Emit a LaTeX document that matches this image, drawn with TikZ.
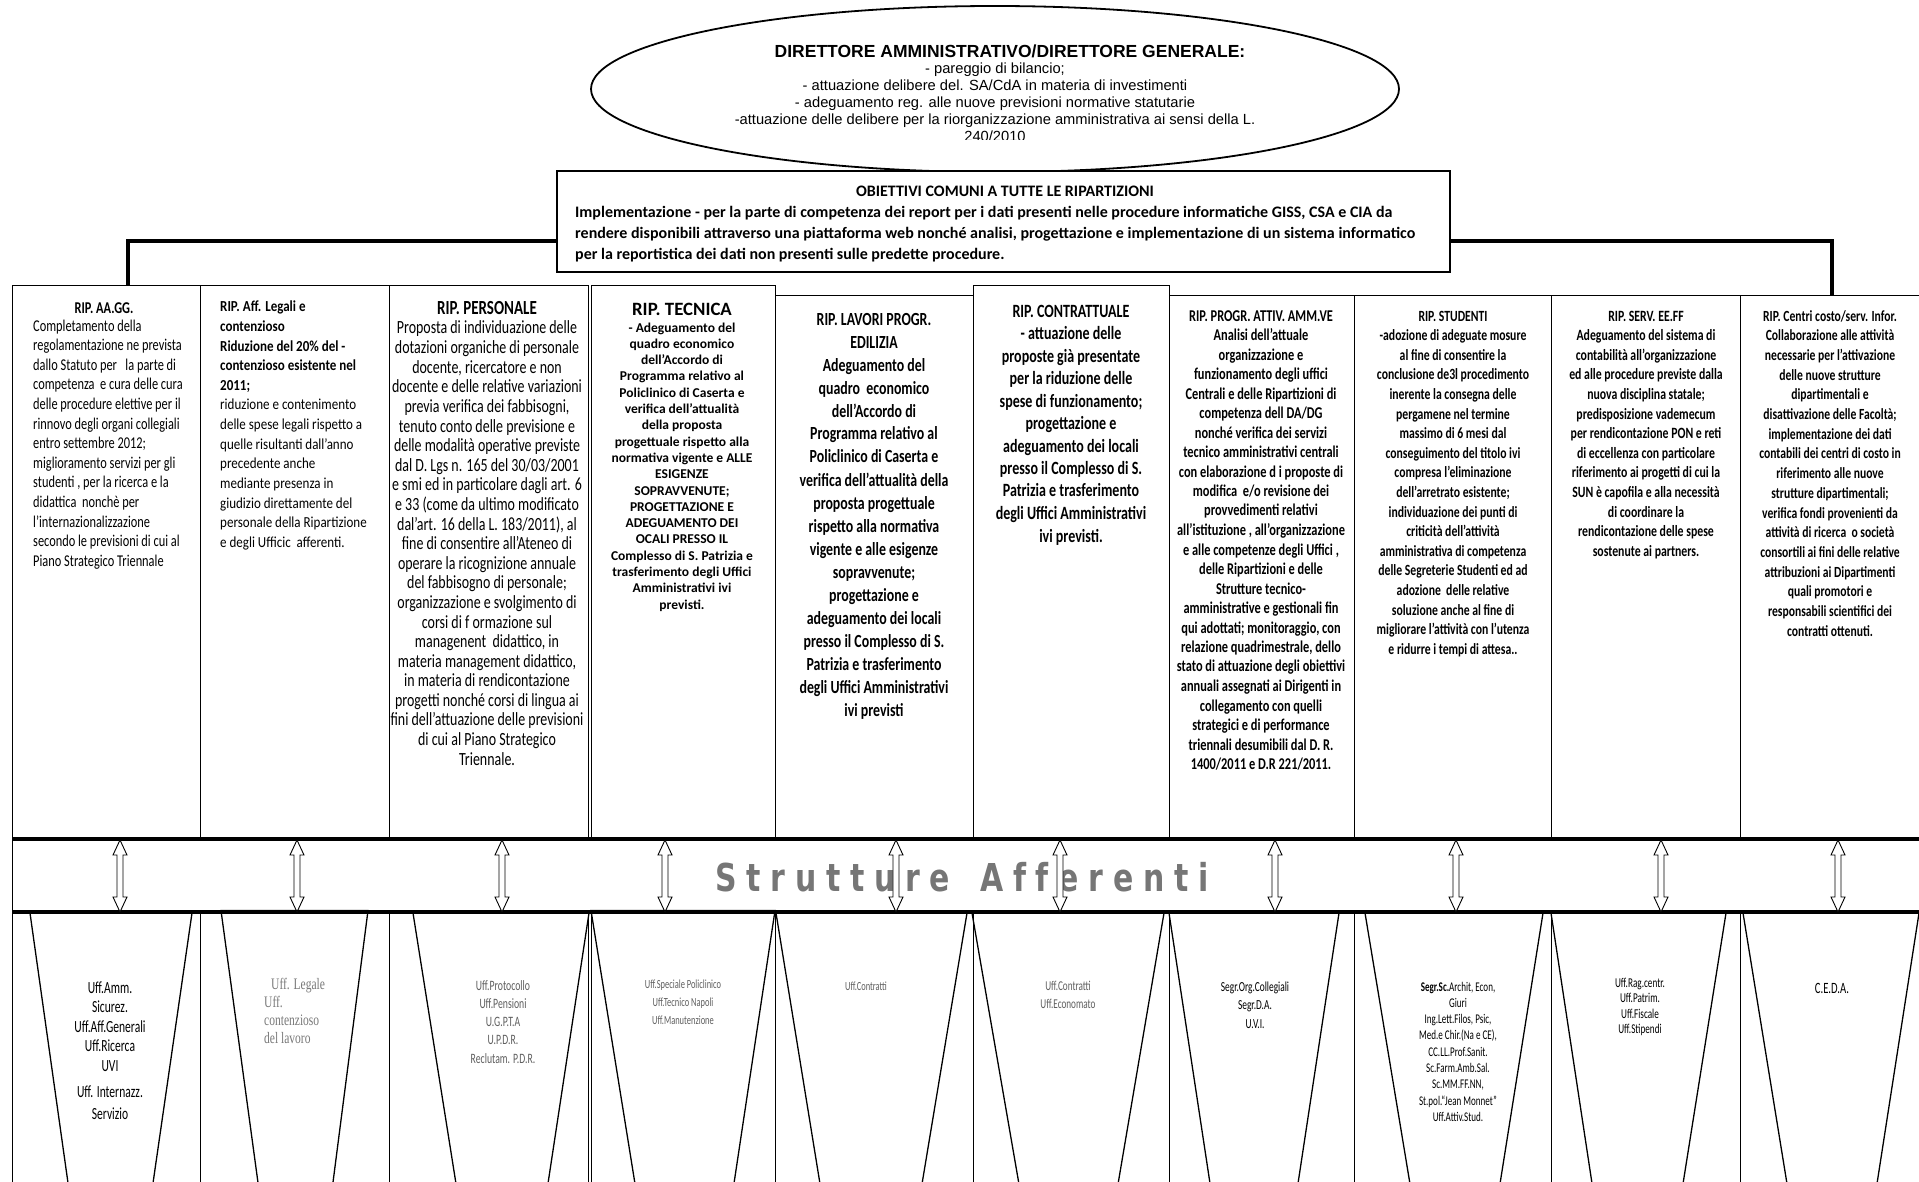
\documentclass[tikz,border=0pt]{standalone}
\usepackage{fontspec}
\setmainfont{Liberation Sans}
\newfontfamily\arialF{Liberation Sans}
\newfontfamily\calF{Carlito}
\newfontfamily\calN[FakeStretch=0.85]{Carlito}
\newfontfamily\calC[FakeStretch=0.75]{Carlito}
\newfontfamily\calX[FakeStretch=0.68]{Carlito}
\newfontfamily\timC[FakeStretch=0.72]{Liberation Serif}
\newfontfamily\strutF[FakeStretch=0.78]{DejaVu Sans}
\usetikzlibrary{shapes.geometric}
\definecolor{strutgrey}{RGB}{118,118,118}
\definecolor{labgrey}{RGB}{95,95,95}
\definecolor{lightlab}{RGB}{120,120,120}
\newcommand{\fsz}[2]{\fontsize{#1}{#2}\selectfont}
\newcommand{\ctab}[1]{\begin{tabular}[t]{@{}c@{}}#1\end{tabular}}
\newcommand{\ltab}[1]{\begin{tabular}[t]{@{}l@{}}#1\end{tabular}}
\newcommand{\lsp}{\kern9.7pt}
\tikzset{
  colbox/.style={draw, line width=1.4pt, inner sep=0pt, anchor=north west},
  txt/.style={inner sep=0pt, anchor=base},
  txtl/.style={inner sep=0pt, anchor=base west},
  trap/.style={line width=1.3pt},
  dbla/.pic={\draw[line width=0.9pt, fill=white] (0,-36) -- (7,-21) -- (3,-21) -- (3,21) -- (7,21) -- (0,36) -- (-7,21) -- (-3,21) -- (-3,-21) -- (-7,-21) -- cycle;}
}
\begin{document}
\begin{tikzpicture}[x=1pt,y=-1pt]
\useasboundingbox (0,0) rectangle (1919,1182);
\begin{scope}
\clip (0,0) rectangle (1919,1182);
\fill[white] (0,0) rectangle (1919,1182);

% ---------------- director ellipse
\node[ellipse, draw, line width=1.8pt, minimum width=808pt, minimum height=166pt, inner sep=0pt] (dir) at (995,89) {};
\node[txt, font=\arialF\bfseries\fsz{17.5}{20}] (dirT) at (1010,58) {DIRETTORE AMMINISTRATIVO/DIRETTORE GENERALE:};
\begin{scope}
\clip (600,60) rectangle (1390,139.5);
\node[txt, font=\arialF\fsz{14.7}{17}] (dirB) at (995,74) {\ctab{- pareggio di bilancio;\\- attuazione delibere del. SA/CdA in materia di investimenti\\- adeguamento reg. alle nuove previsioni normative statutarie\\-attuazione delle delibere per la riorganizzazione amministrativa ai sensi della L.\\240/2010}};
\end{scope}

% ---------------- columns
\node[colbox, minimum width=187.5pt, minimum height=910pt] (c1) at (12,285) {};
\node[colbox, minimum width=189.5pt, minimum height=910pt] (c2) at (199.5,285) {};
\node[colbox, minimum width=198.5pt, minimum height=910pt] (c3) at (389,285) {};
\node[colbox, minimum width=184pt, minimum height=910pt] (c4) at (591,285) {};
\node[colbox, minimum width=198pt, minimum height=900pt] (c5) at (775,295) {};
\node[colbox, minimum width=196pt, minimum height=910pt] (c6) at (973,285) {};
\node[colbox, minimum width=185pt, minimum height=900pt] (c7) at (1169,295) {};
\node[colbox, minimum width=197pt, minimum height=900pt] (c8) at (1354,295) {};
\node[colbox, minimum width=189pt, minimum height=900pt] (c9) at (1551,295) {};
\node[colbox, minimum width=200pt, minimum height=900pt] (c10) at (1740,295) {};

% ---------------- bracket + objectives box
\coordinate (brL) at (128,285);
\coordinate (brR) at (1832,295);
\draw[line width=4pt] (brL) -- ++(0,-44) -| (brR);
\node[draw, line width=2.2pt, fill=white, minimum width=893pt, minimum height=101pt, inner sep=0pt] (obj) at (1003.5,221.5) {};
\node[txt, font=\calF\bfseries\fsz{16}{20.7}] (objT) at (1005,197) {OBIETTIVI COMUNI A TUTTE LE RIPARTIZIONI};
\node[txtl, font=\calF\bfseries\fsz{16}{20.7}] (objB) at (575,218) {\ltab{Implementazione - per la parte di competenza dei report per i dati presenti nelle procedure informatiche GISS, CSA e CIA da\\rendere disponibili attraverso una piattaforma web nonché analisi, progettazione e implementazione di un sistema informatico\\per la reportistica dei dati non presenti sulle predette procedure.}};

% ---------------- column texts
\node[txt, font=\calC\bfseries\fsz{16.5}{19.6}] (h1) at (104,313) {RIP. AA.GG.};
\node[txtl, font=\calC\fsz{16.5}{19.6}] (t1) at (33,331) {\ltab{Completamento della\\regolamentazione ne prevista\\dallo Statuto per \ \ la parte di\\competenza \ e cura delle cura\\delle procedure elettive per il\\rinnovo degli organi collegiali\\entro settembre 2012;\\miglioramento servizi per gli\\studenti , per la ricerca e la\\didattica \ nonchè per\\l’internazionalizzazione\\secondo le previsioni di cui al\\Piano Strategico Triennale}};

\node[txtl, font=\calN\fsz{15.3}{19.6}] (t2) at (220,312) {\ltab{\textbf{RIP. Aff. Legali e}\\\textbf{contenzioso}\\\textbf{Riduzione del 20\% del -}\\\textbf{contenzioso esistente nel}\\\textbf{2011;}\\riduzione e contenimento\\delle spese legali rispetto a\\quelle risultanti dall’anno\\precedente anche\\mediante presenza in\\giudizio direttamente del\\personale della Ripartizione\\e degli Ufficic \ afferenti.}};

\node[txt, font=\calC\bfseries\fsz{20}{19.6}] (h3) at (487,315) {RIP. PERSONALE};
\node[txt, font=\calC\fsz{18.6}{19.6}] (t3) at (487,334) {\ctab{Proposta di individuazione delle\\dotazioni organiche di personale\\docente, ricercatore e non\\docente e delle relative variazioni\\previa verifica dei fabbisogni,\\tenuto conto delle previsione e\\delle modalità operative previste\\dal D. Lgs n. 165 del 30/03/2001\\e smi ed in particolare dagli art. 6\\e 33 (come da ultimo modificato\\dal’art. 16 della L. 183/2011), al\\fine di consentire all’Ateneo di\\operare la ricognizione annuale\\del fabbisogno di personale;\\organizzazione e svolgimento di\\corsi di f ormazione sul\\managenent \ didattico, in\\materia management didattico,\\in materia di rendicontazione\\progetti nonché corsi di lingua ai\\fini dell’attuazione delle previsioni\\di cui al Piano Strategico\\Triennale.}};

\node[txt, font=\calF\bfseries\fsz{18.8}{20}] (h4) at (682,316) {RIP. TECNICA};
\node[txt, font=\calF\bfseries\fsz{13.5}{16.3}] (t4) at (682,332) {\ctab{- Adeguamento del\\quadro economico\\dell’Accordo di\\Programma relativo al\\Policlinico di Caserta e\\verifica dell’attualità\\della proposta\\progettuale rispetto alla\\normativa vigente e ALLE\\ESIGENZE\\SOPRAVVENUTE;\\PROGETTAZIONE E\\ADEGUAMENTO DEI\\OCALI PRESSO IL\\Complesso di S. Patrizia e\\trasferimento degli Uffici\\Amministrativi ivi\\previsti.}};

\node[txt, font=\calC\bfseries\fsz{18.5}{23}] (t5) at (874,325) {\ctab{RIP. LAVORI PROGR.\\EDILIZIA\\Adeguamento del\\quadro \ economico\\dell’Accordo di\\Programma relativo al\\Policlinico di Caserta e\\verifica dell’attualità della\\proposta progettuale\\rispetto alla normativa\\vigente e alle esigenze\\sopravvenute;\\progettazione e\\adeguamento dei locali\\presso il Complesso di S.\\Patrizia e trasferimento\\degli Uffici Amministrativi\\ivi previsti}};

\node[txt, font=\calC\bfseries\fsz{18.7}{22.5}] (t6) at (1071,317) {\ctab{RIP. CONTRATTUALE\\- attuazione delle\\proposte già presentate\\per la riduzione delle\\spese di funzionamento;\\progettazione e\\adeguamento dei locali\\presso il Complesso di S.\\Patrizia e trasferimento\\degli Uffici Amministrativi\\ivi previsti.}};

\node[txt, font=\calC\bfseries\fsz{16.5}{19.5}] (t7) at (1261,321) {\ctab{RIP. PROGR. ATTIV. AMM.VE\\Analisi dell’attuale\\organizzazione e\\funzionamento degli uffici\\Centrali e delle Ripartizioni di\\competenza dell DA/DG\\nonché verifica dei servizi\\tecnico amministrativi centrali\\con elaborazione d i proposte di\\modifica \ e/o revisione dei\\provvedimenti relativi\\all’istituzione , all’organizzazione\\e alle competenze degli Uffici ,\\delle Ripartizioni e delle\\Strutture tecnico-\\amministrative e gestionali fin\\qui adottati; monitoraggio, con\\relazione quadrimestrale, dello\\stato di attuazione degli obiettivi\\annuali assegnati ai Dirigenti in\\collegamento con quelli\\strategici e di performance\\triennali desumibili dal D. R.\\1400/2011 e D.R 221/2011.}};

\node[txt, font=\calC\bfseries\fsz{15.6}{19.6}] (t8) at (1453,321) {\ctab{RIP. STUDENTI\\-adozione di adeguate mosure\\al fine di consentire la\\conclusione de3l procedimento\\inerente la consegna delle\\pergamene nel termine\\massimo di 6 mesi dal\\conseguimento del titolo ivi\\compresa l’eliminazione\\dell’arretrato esistente;\\individuazione dei punti di\\criticità dell’attività\\amministrativa di competenza\\delle Segreterie Studenti ed ad\\adozione \ delle relative\\soluzione anche al fine di\\migliorare l’attività con l’utenza\\e ridurre i tempi di attesa..}};

\node[txt, font=\calC\bfseries\fsz{15.7}{19.6}] (t9) at (1646,321) {\ctab{RIP. SERV. EE.FF\\Adeguamento del sistema di\\contabilità all’organizzazione\\ed alle procedure previste dalla\\nuova disciplina statale;\\predisposizione vademecum\\per rendicontazione PON e reti\\di eccellenza con particolare\\riferimento ai progetti di cui la\\SUN è capofila e alla necessità\\di coordinare la\\rendicontazione delle spese\\sostenute ai partners.}};

\node[txt, font=\calC\bfseries\fsz{15.5}{19.7}] (t10) at (1830,321) {\ctab{RIP. Centri costo/serv. Infor.\\Collaborazione alle attività\\necessarie per l’attivazione\\delle nuove strutture\\dipartimentali e\\disattivazione delle Facoltà;\\implementazione dei dati\\contabili dei centri di costo in\\riferimento alle nuove\\strutture dipartimentali;\\verifica fondi provenienti da\\attività di ricerca \ o società\\consortili ai fini delle relative\\attribuzioni ai Dipartimenti\\quali promotori e\\responsabili scientifici dei\\contratti ottenuti.}};

% ---------------- band "Strutture Afferenti"
\node[fill=white, minimum width=1920pt, minimum height=73pt, inner sep=0pt, anchor=north west] (band) at (13,839) {};
\draw[line width=4pt] (band.north west) -- (band.north east);
\draw[line width=4pt] (band.south west) -- (band.south east);
\node[inner sep=0pt, text=strutgrey, font=\strutF\bfseries\fsz{38.4}{40}] (strut) at (962,877) {S\lsp t\lsp r\lsp u\lsp t\lsp t\lsp u\lsp r\lsp e\kern30pt A\lsp f\lsp f\lsp e\lsp r\lsp e\lsp n\lsp t\lsp i};
\foreach \ax in {120,297,502,665,896,1060,1275,1456,1661,1838}
  \pic at (\ax,876) {dbla};

% ---------------- trapezoids
\draw[trap] (69,1190) -- (30,913) -- (192,913) -- (152,1190);
\draw[trap] (259,1190) -- (221,910.5) -- (368,910.5) -- (332,1190);
\draw[trap] (457,1190) -- (413,913) -- (589,913) -- (547,1190);
\draw[trap] (636,1190) -- (591,910.5) -- (775,910.5) -- (733,1190);
\draw[trap] (821,1190) -- (776,913) -- (967,913) -- (921,1190);
\draw[trap] (1020,1190) -- (972,913) -- (1164,913) -- (1117,1190);
\draw[trap] (1211,1190) -- (1169,913) -- (1339,913) -- (1297,1190);
\draw[trap] (1411,1190) -- (1365,913) -- (1543,913) -- (1499,1190);
\draw[trap] (1593,1190) -- (1551,913) -- (1726,913) -- (1682,1190);
\draw[trap] (1788,1190) -- (1743,913) -- (1919,913) -- (1876,1190);

% ---------------- bottom labels
\node[txt, font=\calX\fsz{17}{19.5}] (b1) at (110,993) {\ctab{Uff.Amm.\\Sicurez.\\Uff.Aff.Generali\\Uff.Ricerca\\UVI\\[7pt]Uff. Internazz.\\[2.5pt]Servizio}};
\node[txtl, font=\timC\fsz{16}{18.3}, text=lightlab] (b2) at (264,989) {\ltab{\hspace*{7pt}Uff. Legale\\Uff.\\contenzioso\\del lavoro}};
\node[txt, font=\calX\fsz{14.3}{18.3}, text=labgrey] (b3) at (503,990) {\ctab{Uff.Protocollo\\Uff.Pensioni\\U.G.P.T.A\\U.P.D.R.\\Reclutam. P.D.R.}};
\node[txt, font=\calX\fsz{12.4}{18}, text=labgrey] (b4) at (683,988) {\ctab{Uff.Speciale Policlinico\\Uff.Tecnico Napoli\\Uff.Manutenzione}};
\node[txt, font=\calX\fsz{12.4}{18}, text=labgrey] (b5) at (866,990) {Uff.Contratti};
\node[txt, font=\calX\fsz{13.5}{18}, text=labgrey] (b6) at (1068,990) {\ctab{Uff.Contratti\\Uff.Economato}};
\node[txt, font=\calX\fsz{13.8}{18.5}] (b7) at (1255,991) {\ctab{Segr.Org.Collegiali\\Segr.D.A.\\U.V.I.}};
\node[txt, font=\calX\fsz{13.3}{16.3}] (b8) at (1458,991) {\ctab{\textbf{Segr.Sc.}Archit, Econ,\\Giuri\\Ing.Lett.Filos, Psic,\\Med.e Chir.(Na e CE),\\CC.LL.Prof.Sanit.\\Sc.Farm.Amb.Sal.\\Sc.MM.FF.NN,\\St.pol.“Jean Monnet”\\Uff.Attiv.Stud.}};
\node[txt, font=\calX\fsz{13.5}{15.5}] (b9) at (1640,987) {\ctab{Uff.Rag.centr.\\Uff.Patrim.\\Uff.Fiscale\\Uff.Stipendi}};
\node[txt, font=\calX\fsz{15.7}{18}] (b10) at (1832,993) {C.E.D.A.};
\end{scope}
\end{tikzpicture}
\end{document}
